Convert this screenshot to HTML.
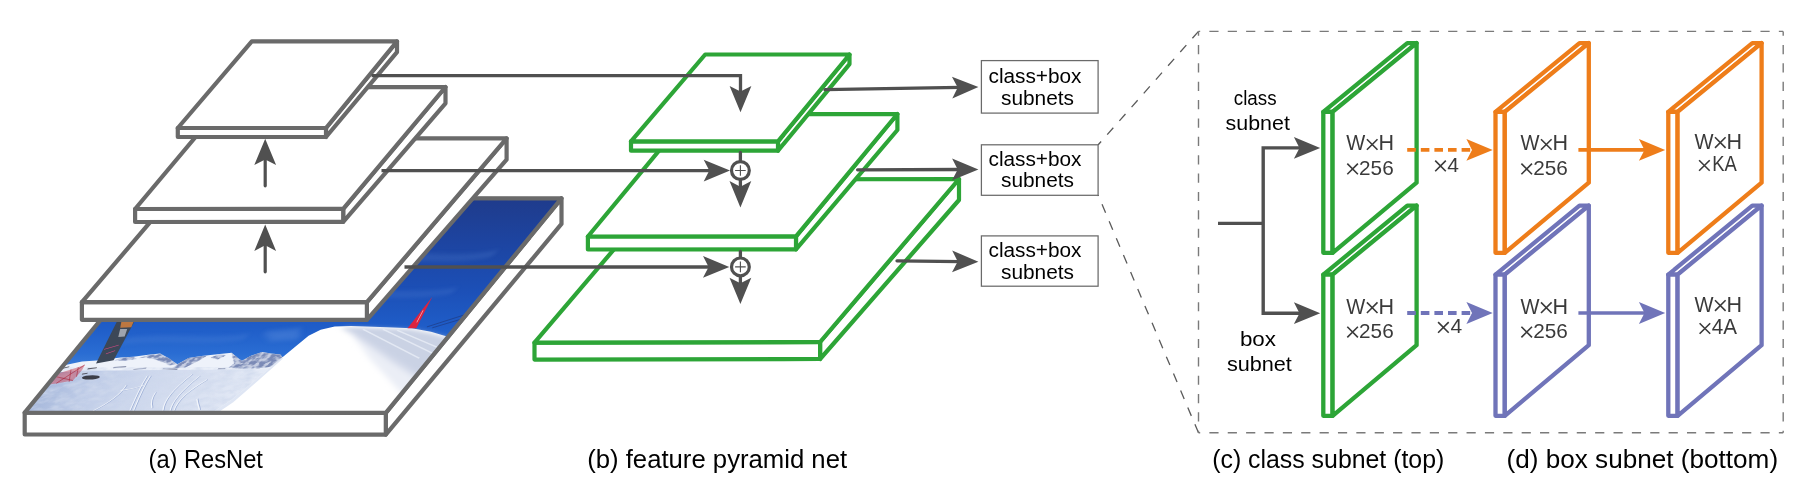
<!DOCTYPE html>
<html><head><meta charset="utf-8"><title>RetinaNet</title>
<style>
html,body{margin:0;padding:0;background:#fff;}
svg{display:block;-webkit-font-smoothing:antialiased;font-family:'Liberation Sans', sans-serif;}
</style></head><body>
<svg width="1818" height="490" viewBox="0 0 1818 490">
<rect width="1818" height="490" fill="#fff"/>
<g opacity="0.999">
<defs>
<linearGradient id="sky" x1="0" y1="0" x2="0" y2="1"><stop offset="0" stop-color="#1f3b8b"/><stop offset="0.2" stop-color="#1d44a0"/><stop offset="0.42" stop-color="#1c4fb6"/><stop offset="0.6" stop-color="#1f5dc8"/><stop offset="0.72" stop-color="#2a6dd3"/><stop offset="0.8" stop-color="#3f80da"/></linearGradient>
<linearGradient id="snow" gradientUnits="userSpaceOnUse" x1="0" y1="222" x2="205" y2="172"><stop offset="0" stop-color="#a4b6da"/><stop offset="0.25" stop-color="#c0cde8"/><stop offset="0.6" stop-color="#d3dcef"/><stop offset="1" stop-color="#e4eaf6"/></linearGradient>
<filter id="blur3" x="-10%" y="-50%" width="120%" height="200%"><feGaussianBlur stdDeviation="2.5"/></filter>
<filter id="blur2" x="-10%" y="-20%" width="120%" height="140%"><feGaussianBlur stdDeviation="2"/></filter>
<filter id="noise" filterUnits="userSpaceOnUse" x="-1" y="169" width="364" height="48"><feTurbulence type="fractalNoise" baseFrequency="0.09 0.2" numOctaves="3" seed="7" result="n"/><feColorMatrix in="n" type="matrix" values="0 0 0 0 0.62  0 0 0 0 0.69  0 0 0 0 0.84  2.2 0 0 0 -0.75"/></filter>
<filter id="rock" filterUnits="userSpaceOnUse" x="-1" y="140" width="240" height="40"><feTurbulence type="fractalNoise" baseFrequency="0.22 0.3" numOctaves="2" seed="3" result="n"/><feColorMatrix in="n" type="matrix" values="0 0 0 0 0.2  0 0 0 0 0.26  0 0 0 0 0.47  5 0 0 0 -1.9" result="c"/><feComposite in="c" in2="SourceAlpha" operator="in"/></filter>
<clipPath id="pc"><rect x="0" y="0" width="361.2" height="214.5"/></clipPath>
</defs>
<g stroke="#6a6a6a" stroke-width="4.2" stroke-linejoin="round" fill="#fff"><polygon points="385.8,412.8 561.5,198.3 561.5,223.9 385.8,434.6"/><polygon points="24.7,412.6 385.8,412.8 385.8,434.6 24.7,434.4"/><polygon points="24.7,412.6 385.8,412.8 561.5,198.3 200.4,198.1" fill="#fff" stroke="none"/><g transform="matrix(1,0,-0.8195,1,200.4,198.3)" stroke="none" clip-path="url(#pc)"><rect x="-1" y="-1" width="364" height="217" fill="url(#sky)"/><g filter="url(#blur3)" opacity="0.2"><path d="M240,60 C270,50 300,62 340,52 L340,58 C300,68 270,58 240,66 Z" fill="#6f9be0"/><path d="M200,95 C240,88 280,98 330,90 L330,95 C280,104 240,94 200,101 Z" fill="#6f9be0"/><path d="M40,140 C80,134 120,142 160,136 L160,141 C120,148 80,140 40,146 Z" fill="#6f9be0"/><polygon points="171.0,133.5 206.0,129.9 215.0,140.9 187.7,142.7" fill="#9cc0f0"/></g><polygon points="-7.5,171.2 -10.5,167.5 1.6,166.6 15.4,163.3 29.2,162.2 50.7,159.2 62.9,158.5 76.0,156.5 86.9,155.2 97.5,159.2 113.0,165.9 118.9,159.6 130.3,157.8 146.8,155.6 157.9,154.5 167.3,159.2 174.6,162.5 179.6,157.4 187.6,153.7 198.0,155.2 208.0,156.3 216.0,161.1 228.0,173.9 -5.2,173.9" fill="#eef2fa"/><g filter="url(#rock)"><polygon points="87.2,155.6 97.5,159.2 113.0,165.9 106.6,167.0 96.7,163.8 87.1,161.1 76.4,159.2 69.4,159.6 76.4,157.0" fill="#000"/><polygon points="113.3,166.2 119.1,159.8 130.4,158.0 135.5,157.4 131.9,162.0 127.6,165.7 123.2,169.3 110.8,169.9" fill="#000"/><polygon points="158.2,154.8 167.3,159.2 174.6,162.5 179.6,157.4 187.7,153.9 198.0,155.2 208.2,156.5 215.3,161.1 208.8,168.4 197.1,169.9 182.7,170.3 167.3,169.3 169.1,164.8 162.7,159.2" fill="#000"/><polygon points="51.0,159.6 63.1,158.7 68.4,160.7 58.6,162.2 47.4,162.0" fill="#000"/><polygon points="140.7,159.2 147.1,155.9 153.9,157.4 149.5,161.1" fill="#000"/></g><polygon points="87.2,155.6 97.5,159.2 113.0,165.9 106.6,167.0 96.7,163.8 87.1,161.1 76.4,159.2 69.4,159.6 76.4,157.0" fill="#7c8ab4" opacity="0.35"/><polygon points="113.3,166.2 119.1,159.8 130.4,158.0 135.5,157.4 131.9,162.0 127.6,165.7 123.2,169.3 110.8,169.9" fill="#7c8ab4" opacity="0.35"/><polygon points="158.2,154.8 167.3,159.2 174.6,162.5 179.6,157.4 187.7,153.9 198.0,155.2 208.2,156.5 215.3,161.1 208.8,168.4 197.1,169.9 182.7,170.3 167.3,169.3 169.1,164.8 162.7,159.2" fill="#7c8ab4" opacity="0.35"/><polygon points="51.0,159.6 63.1,158.7 68.4,160.7 58.6,162.2 47.4,162.0" fill="#7c8ab4" opacity="0.35"/><polygon points="140.7,159.2 147.1,155.9 153.9,157.4 149.5,161.1" fill="#7c8ab4" opacity="0.35"/><path d="M51.6,169.3 L63.7,168.4 M73.3,171.2 L85.1,169.9 M93.6,173.6 L100.7,173.2 M102.0,170.3 L117.2,171.0 M157.3,170.6 L164.4,170.3" stroke="#5a6488" stroke-width="1.2" fill="none" opacity="0.7"/><polygon points="-8.1,174.9 19.3,172.5 55.7,172.1 128.6,171.4 210.9,171.0 227.4,171.0 264.4,216.2 0.0,216.2" fill="url(#snow)"/><polygon points="-8.1,174.9 19.3,172.5 55.7,172.1 128.6,171.4 210.9,171.0 227.4,171.0 264.4,216.2 0.0,216.2" fill="#8ea2cf" filter="url(#noise)" opacity="0.75"/><g fill="none" stroke="#8fa3cf" stroke-width="1.1" opacity="0.7" transform="translate(0.9,0)"><path d="M103.5,212.5 C98.5,199.6 93.5,186.8 92.4,177.6"/><path d="M107.2,212.5 C101.8,199.6 96.8,186.8 95.5,177.6"/><path d="M136.6,212.5 C128.5,201.5 129.5,190.5 135.8,175.8"/><path d="M143.9,212.5 C137.9,203.3 138.4,192.3 144.7,177.6"/><path d="M123.3,209.7 Q114.7,201.5 114.2,194.1"/><path d="M172.5,211.6 Q165.1,205.1 160.8,200.6"/><path d="M147.6,212.5 C142.2,201.5 145.7,192.3 155.1,181.3"/><path d="M66.8,212.5 C75.5,205.1 80.8,196.0 78.8,186.8"/><path d="M77.8,192.3 Q89.1,190.5 97.1,186.8"/></g><g fill="none" stroke="#f4f7fc" stroke-width="1.0" opacity="0.95"><path d="M103.5,212.5 C98.5,199.6 93.5,186.8 92.4,177.6"/><path d="M107.2,212.5 C101.8,199.6 96.8,186.8 95.5,177.6"/><path d="M136.6,212.5 C128.5,201.5 129.5,190.5 135.8,175.8"/><path d="M143.9,212.5 C137.9,203.3 138.4,192.3 144.7,177.6"/><path d="M123.3,209.7 Q114.7,201.5 114.2,194.1"/><path d="M172.5,211.6 Q165.1,205.1 160.8,200.6"/><path d="M147.6,212.5 C142.2,201.5 145.7,192.3 155.1,181.3"/><path d="M66.8,212.5 C75.5,205.1 80.8,196.0 78.8,186.8"/><path d="M77.8,192.3 Q89.1,190.5 97.1,186.8"/></g><path d="M186,216 L196,202 L204,182 L212,160 L220.8,137.4 L228,131.5 L239.4,128.3 L255,127.6 L285,128.8 L318,130 L340,133.5 L363,139 L363,216 Z" fill="#ffffff"/><g filter="url(#blur2)"><path d="M246,128.5 L285,129.8 L318,131 L340,134.5 L364,140 L364,180 L330,166 L290,148 Z" fill="#b4bfd8" opacity="0.7"/><path d="M255,131 L363,176 L363,196 L300,160 Z" fill="#dde3f0" opacity="0.6"/></g><g stroke="#e9eef7" stroke-width="1.2" opacity="0.8"><path d="M270,131 L350,160"/><path d="M290,131 L362,156"/><path d="M305,132 L362,150"/></g><path d="M186,216 L196,202 L204,182 L212,160 L214,160 L207,183 L200,204 L192,216 Z" fill="#c9d5ec" opacity="0.6"/><polygon points="16.7,120.7 34.3,120.7 46.0,162.0 30.9,165.1" fill="#3c4757"/><polygon points="27.0,130.8 34.0,130.8 37.4,138.1 31.5,138.7" fill="#b8bcc4" opacity="0.8"/><polygon points="21.5,122.5 34.0,122.5 36.5,128.9 26.0,129.5" fill="#d4803c" opacity="0.85"/><path d="M27.4,151.0 L38.6,146.8 M33.0,155.6 L39.5,152.3" stroke="#c84a80" stroke-width="0.9" fill="none"/><polygon points="-2.9,176.7 10.9,171.2 20.9,166.6 22.4,171.7 21.8,182.2 7.8,185.3 -2.0,186.8" fill="#c8485c" opacity="0.5"/><path d="M7.5,185.0 L20.9,166.6 M-2.2,177.6 L21.8,182.2 M10.9,171.2 L19.1,183.5 M16.4,169.0 L22.4,178.5" stroke="#a82238" stroke-width="0.6" fill="none" opacity="0.8"/><ellipse cx="37.2" cy="179.1" rx="8.8" ry="2.2" fill="#25252c" opacity="0.85"/><path d="M1.6,169.9 L6.8,168.4 M27.0,170.6 L35.3,169.5 M25.7,175.8 L30.6,175.0" stroke="#30303a" stroke-width="1.1" fill="none" opacity="0.75"/><path d="M331.9,128.6 L362,115.5 M338,129.5 L362,120" stroke="#1f3270" stroke-width="0.45" fill="none"/><polygon points="312.6,98.6 322.4,130 313.6,130" fill="#dc2340"/><path d="M314.5,112 L318,124" stroke="#f2b0b8" stroke-width="0.8"/></g><polygon points="24.7,412.6 385.8,412.8 561.5,198.3 200.4,198.1" fill="none"/></g>
<g stroke="#6a6a6a" stroke-width="4.2" stroke-linejoin="round" fill="#fff"><polygon points="366.9,302.2 506.6,138.4 506.6,159.7 366.9,319.8"/><polygon points="81.9,302.2 366.9,302.2 366.9,319.8 81.9,319.8"/><polygon points="81.9,302.2 366.9,302.2 506.6,138.4 221.6,138.4" fill="#fff"/></g>
<g stroke="#6a6a6a" stroke-width="4.2" stroke-linejoin="round" fill="#fff"><polygon points="343.2,208.8 445.5,87.0 445.5,103.3 343.2,221.8"/><polygon points="135.1,209.0 343.2,208.8 343.2,221.8 135.1,222.0"/><polygon points="135.1,209.0 343.2,208.8 445.5,87.0 237.4,87.2" fill="#fff"/></g>
<g stroke="#6a6a6a" stroke-width="4.2" stroke-linejoin="round" fill="#fff"><polygon points="326.0,128.0 397.0,41.4 397.0,52.2 326.0,137.0"/><polygon points="177.8,128.0 326.0,128.0 326.0,137.0 177.8,137.0"/><polygon points="177.8,128.0 326.0,128.0 397.0,41.4 251.8,41.4" fill="#fff"/></g>
<polyline points="265.2,185.8 265.2,156.8" fill="none" stroke="#505050" stroke-width="3.2" stroke-linecap="round" stroke-linejoin="miter"/>
<polygon transform="translate(265.2,138.8) rotate(-90)" points="0,0 -26.3,-10.9 -20.700000000000003,0 -26.3,10.9" fill="#505050"/>
<polyline points="265.2,271.8 265.2,242.6" fill="none" stroke="#505050" stroke-width="3.2" stroke-linecap="round" stroke-linejoin="miter"/>
<polygon transform="translate(265.2,224.6) rotate(-90)" points="0,0 -26.3,-10.9 -20.700000000000003,0 -26.3,10.9" fill="#505050"/>
<g stroke="#2da537" stroke-width="4.2" stroke-linejoin="round" fill="#fff"><polygon points="820.1,342.0 959.0,179.0 959.0,200.0 820.1,359.0"/><polygon points="534.5,342.6 820.1,342.0 820.1,359.0 534.5,359.6"/><polygon points="534.5,342.6 820.1,342.0 959.0,179.0 673.4,179.6" fill="#fff"/></g>
<g stroke="#2da537" stroke-width="4.2" stroke-linejoin="round" fill="#fff"><polygon points="796.0,236.3 897.4,114.0 897.4,130.0 796.0,249.3"/><polygon points="587.9,236.5 796.0,236.3 796.0,249.3 587.9,249.5"/><polygon points="587.9,236.5 796.0,236.3 897.4,114.0 689.3,114.2" fill="#fff"/></g>
<g stroke="#2da537" stroke-width="4.2" stroke-linejoin="round" fill="#fff"><polygon points="778.0,141.3 849.5,54.5 849.5,64.1 778.0,150.7"/><polygon points="631.0,141.3 778.0,141.3 778.0,150.7 631.0,150.7"/><polygon points="631.0,141.3 778.0,141.3 849.5,54.5 705.2,54.5" fill="#fff"/></g>
<polyline points="371.6,75.6 740.5,75.6 740.5,95.0" fill="none" stroke="#505050" stroke-width="3.3" stroke-linecap="butt" stroke-linejoin="miter"/>
<polygon transform="translate(740.5,112.2) rotate(90)" points="0,0 -26.3,-10.9 -20.700000000000003,0 -26.3,10.9" fill="#505050"/>
<polyline points="381.5,170.6 712.0,170.6" fill="none" stroke="#505050" stroke-width="3.3" stroke-linecap="butt" stroke-linejoin="miter"/>
<polygon transform="translate(730.0,170.6) rotate(0)" points="0,0 -26.3,-10.9 -20.700000000000003,0 -26.3,10.9" fill="#505050"/>
<polyline points="404.5,267.0 712.0,267.0" fill="none" stroke="#505050" stroke-width="3.3" stroke-linecap="butt" stroke-linejoin="miter"/>
<polygon transform="translate(729.3,266.9) rotate(0)" points="0,0 -26.3,-10.9 -20.700000000000003,0 -26.3,10.9" fill="#505050"/>
<polyline points="740.4,152.5 740.4,161.5" fill="none" stroke="#505050" stroke-width="3.3" stroke-linecap="round" stroke-linejoin="miter"/>
<polyline points="740.4,179.5 740.4,189.4" fill="none" stroke="#505050" stroke-width="3.3" stroke-linecap="butt" stroke-linejoin="miter"/>
<circle cx="740.4" cy="170.5" r="8.9" fill="#fff" stroke="#505050" stroke-width="3.2"/>
<path d="M735.1,170.5H745.6999999999999M740.4,165.2V175.8" stroke="#505050" stroke-width="1.1" fill="none"/>
<polygon transform="translate(740.4,207.4) rotate(90)" points="0,0 -26.3,-10.9 -20.700000000000003,0 -26.3,10.9" fill="#505050"/>
<polyline points="740.4,251.5 740.4,257.9" fill="none" stroke="#505050" stroke-width="3.3" stroke-linecap="round" stroke-linejoin="miter"/>
<polyline points="740.4,275.9 740.4,286.0" fill="none" stroke="#505050" stroke-width="3.3" stroke-linecap="butt" stroke-linejoin="miter"/>
<circle cx="740.4" cy="266.9" r="8.9" fill="#fff" stroke="#505050" stroke-width="3.2"/>
<path d="M735.1,266.9H745.6999999999999M740.4,261.59999999999997V272.2" stroke="#505050" stroke-width="1.1" fill="none"/>
<polygon transform="translate(740.4,304.0) rotate(90)" points="0,0 -26.3,-10.9 -20.700000000000003,0 -26.3,10.9" fill="#505050"/>
<polyline points="825.0,89.6 960.0,87.4" fill="none" stroke="#505050" stroke-width="3.3" stroke-linecap="round" stroke-linejoin="miter"/>
<polygon transform="translate(978.4,87.1) rotate(-1)" points="0,0 -26.3,-10.9 -20.700000000000003,0 -26.3,10.9" fill="#505050"/>
<polyline points="857.6,169.8 960.0,169.5" fill="none" stroke="#505050" stroke-width="3.3" stroke-linecap="round" stroke-linejoin="miter"/>
<polygon transform="translate(978.4,169.4) rotate(0)" points="0,0 -26.3,-10.9 -20.700000000000003,0 -26.3,10.9" fill="#505050"/>
<polyline points="897.0,260.8 960.0,261.6" fill="none" stroke="#505050" stroke-width="3.3" stroke-linecap="round" stroke-linejoin="miter"/>
<polygon transform="translate(978.4,261.7) rotate(0.5)" points="0,0 -26.3,-10.9 -20.700000000000003,0 -26.3,10.9" fill="#505050"/>
<rect x="981.4" y="60.6" width="116.7" height="52.5" fill="#fff" stroke="#6a6a6a" stroke-width="1.25"/>
<text x="988.5" y="83.0" font-size="19.4" fill="#000" text-anchor="start" textLength="93.0" lengthAdjust="spacingAndGlyphs">class+box</text>
<text x="1001.0" y="104.6" font-size="19.4" fill="#000" text-anchor="start" textLength="73.0" lengthAdjust="spacingAndGlyphs">subnets</text>
<rect x="981.4" y="144.8" width="116.7" height="50.5" fill="#fff" stroke="#6a6a6a" stroke-width="1.25"/>
<text x="988.5" y="165.8" font-size="19.4" fill="#000" text-anchor="start" textLength="93.0" lengthAdjust="spacingAndGlyphs">class+box</text>
<text x="1001.0" y="187.3" font-size="19.4" fill="#000" text-anchor="start" textLength="73.0" lengthAdjust="spacingAndGlyphs">subnets</text>
<rect x="981.4" y="235.9" width="116.7" height="50.3" fill="#fff" stroke="#6a6a6a" stroke-width="1.25"/>
<text x="988.5" y="257.0" font-size="19.4" fill="#000" text-anchor="start" textLength="93.0" lengthAdjust="spacingAndGlyphs">class+box</text>
<text x="1001.0" y="278.5" font-size="19.4" fill="#000" text-anchor="start" textLength="73.0" lengthAdjust="spacingAndGlyphs">subnets</text>
<polyline points="1198.5,31.4 1098.2,144.8" fill="none" stroke="#5a5a5a" stroke-width="1.3" stroke-linecap="butt" stroke-linejoin="miter" stroke-dasharray="9.185 9.185"/>
<polyline points="1198.5,432.8 1098.2,195.3" fill="none" stroke="#5a5a5a" stroke-width="1.3" stroke-linecap="butt" stroke-linejoin="miter" stroke-dasharray="9.185 9.185"/>
<polyline points="1198.5,31.4 1783.2,31.4" fill="none" stroke="#7a7a7a" stroke-width="1.4" stroke-dasharray="9.185 9.185" stroke-dashoffset="7.5"/>
<polyline points="1198.5,432.8 1783.2,432.8" fill="none" stroke="#7a7a7a" stroke-width="1.4" stroke-dasharray="9.185 9.185" stroke-dashoffset="7.5"/>
<polyline points="1198.5,31.4 1198.5,432.8" fill="none" stroke="#7a7a7a" stroke-width="1.4" stroke-dasharray="9.185 9.185" stroke-dashoffset="4.8"/>
<polyline points="1783.2,31.4 1783.2,432.8" fill="none" stroke="#7a7a7a" stroke-width="1.4" stroke-dasharray="9.185 9.185" stroke-dashoffset="4.8"/>
<g stroke="#2da537" stroke-width="4.3" stroke-linejoin="round" fill="#fff"><polygon points="1332.6,111.8 1416.6,43.1 1407.3,43.1 1323.3,111.8"/><polygon points="1332.6,111.8 1332.6,252.8 1323.3,252.8 1323.3,111.8"/><polygon points="1332.6,111.8 1416.6,43.1 1416.6,182.7 1332.6,252.8"/></g>
<g stroke="#ee7d1a" stroke-width="4.3" stroke-linejoin="round" fill="#fff"><polygon points="1504.8,111.8 1588.8,43.1 1579.5,43.1 1495.5,111.8"/><polygon points="1504.8,111.8 1504.8,252.8 1495.5,252.8 1495.5,111.8"/><polygon points="1504.8,111.8 1588.8,43.1 1588.8,182.7 1504.8,252.8"/></g>
<g stroke="#ee7d1a" stroke-width="4.3" stroke-linejoin="round" fill="#fff"><polygon points="1677.6,111.8 1761.6,43.1 1752.3,43.1 1668.3,111.8"/><polygon points="1677.6,111.8 1677.6,252.8 1668.3,252.8 1668.3,111.8"/><polygon points="1677.6,111.8 1761.6,43.1 1761.6,182.7 1677.6,252.8"/></g>
<g stroke="#2da537" stroke-width="4.3" stroke-linejoin="round" fill="#fff"><polygon points="1332.6,274.6 1416.6,205.6 1407.3,205.6 1323.3,274.6"/><polygon points="1332.6,274.6 1332.6,415.8 1323.3,415.8 1323.3,274.6"/><polygon points="1332.6,274.6 1416.6,205.6 1416.6,345.2 1332.6,415.8"/></g>
<g stroke="#7074b9" stroke-width="4.3" stroke-linejoin="round" fill="#fff"><polygon points="1504.8,274.6 1588.8,205.6 1579.5,205.6 1495.5,274.6"/><polygon points="1504.8,274.6 1504.8,415.8 1495.5,415.8 1495.5,274.6"/><polygon points="1504.8,274.6 1588.8,205.6 1588.8,345.2 1504.8,415.8"/></g>
<g stroke="#7074b9" stroke-width="4.3" stroke-linejoin="round" fill="#fff"><polygon points="1677.6,274.6 1761.6,205.6 1752.3,205.6 1668.3,274.6"/><polygon points="1677.6,274.6 1677.6,415.8 1668.3,415.8 1668.3,274.6"/><polygon points="1677.6,274.6 1761.6,205.6 1761.6,345.2 1677.6,415.8"/></g>
<polyline points="1218.0,223.4 1263.2,223.4" fill="none" stroke="#505050" stroke-width="3.4" stroke-linecap="butt" stroke-linejoin="miter"/>
<polyline points="1300.0,147.9 1263.2,147.9 1263.2,313.2 1300.0,313.2" fill="none" stroke="#505050" stroke-width="3.4" stroke-linecap="butt" stroke-linejoin="miter"/>
<polygon transform="translate(1320.2,147.9) rotate(0)" points="0,0 -26.3,-10.9 -20.700000000000003,0 -26.3,10.9" fill="#505050"/>
<polygon transform="translate(1320.2,313.2) rotate(0)" points="0,0 -26.3,-10.9 -20.700000000000003,0 -26.3,10.9" fill="#505050"/>
<polyline points="1407.2,149.9 1473.0,149.9" fill="none" stroke="#ee7d1a" stroke-width="3.9" stroke-linecap="butt" stroke-linejoin="miter" stroke-dasharray="8.6 5"/>
<polygon transform="translate(1492.7,149.9) rotate(0)" points="0,0 -26.3,-10.9 -20.700000000000003,0 -26.3,10.9" fill="#ee7d1a"/>
<polyline points="1578.4,149.9 1645.0,149.9" fill="none" stroke="#ee7d1a" stroke-width="3.6" stroke-linecap="butt" stroke-linejoin="miter"/>
<polygon transform="translate(1665.2,149.9) rotate(0)" points="0,0 -26.3,-10.9 -20.700000000000003,0 -26.3,10.9" fill="#ee7d1a"/>
<polyline points="1407.2,313.0 1473.0,313.0" fill="none" stroke="#7074b9" stroke-width="3.9" stroke-linecap="butt" stroke-linejoin="miter" stroke-dasharray="8.6 5"/>
<polygon transform="translate(1492.7,313.0) rotate(0)" points="0,0 -26.3,-10.9 -20.700000000000003,0 -26.3,10.9" fill="#7074b9"/>
<polyline points="1578.4,313.0 1645.0,313.0" fill="none" stroke="#7074b9" stroke-width="3.6" stroke-linecap="butt" stroke-linejoin="miter"/>
<polygon transform="translate(1665.2,313.0) rotate(0)" points="0,0 -26.3,-10.9 -20.700000000000003,0 -26.3,10.9" fill="#7074b9"/>
<text x="1346.3" y="150.4" font-size="21.5" fill="#3a3a3a" text-anchor="start" textLength="19.0" lengthAdjust="spacingAndGlyphs">W</text>
<path d="M1366.90,139.20L1377.50,149.80M1366.90,149.80L1377.50,139.20" stroke="#3a3a3a" stroke-width="1.6" fill="none"/>
<text x="1386.2" y="150.4" font-size="21.5" fill="#3a3a3a" text-anchor="middle">H</text>
<path d="M1347.30,163.60L1357.90,174.20M1347.30,174.20L1357.90,163.60" stroke="#3a3a3a" stroke-width="1.6" fill="none"/>
<text x="1359.1" y="174.8" font-size="21.0" fill="#3a3a3a" text-anchor="start" textLength="34.6" lengthAdjust="spacingAndGlyphs">256</text>
<text x="1346.3" y="313.6" font-size="21.5" fill="#3a3a3a" text-anchor="start" textLength="19.0" lengthAdjust="spacingAndGlyphs">W</text>
<path d="M1366.90,302.40L1377.50,313.00M1366.90,313.00L1377.50,302.40" stroke="#3a3a3a" stroke-width="1.6" fill="none"/>
<text x="1386.2" y="313.6" font-size="21.5" fill="#3a3a3a" text-anchor="middle">H</text>
<path d="M1347.30,326.80L1357.90,337.40M1347.30,337.40L1357.90,326.80" stroke="#3a3a3a" stroke-width="1.6" fill="none"/>
<text x="1359.1" y="338.0" font-size="21.0" fill="#3a3a3a" text-anchor="start" textLength="34.6" lengthAdjust="spacingAndGlyphs">256</text>
<text x="1520.4" y="150.4" font-size="21.5" fill="#3a3a3a" text-anchor="start" textLength="19.0" lengthAdjust="spacingAndGlyphs">W</text>
<path d="M1541.00,139.20L1551.60,149.80M1541.00,149.80L1551.60,139.20" stroke="#3a3a3a" stroke-width="1.6" fill="none"/>
<text x="1560.3" y="150.4" font-size="21.5" fill="#3a3a3a" text-anchor="middle">H</text>
<path d="M1521.40,163.60L1532.00,174.20M1521.40,174.20L1532.00,163.60" stroke="#3a3a3a" stroke-width="1.6" fill="none"/>
<text x="1533.2" y="174.8" font-size="21.0" fill="#3a3a3a" text-anchor="start" textLength="34.6" lengthAdjust="spacingAndGlyphs">256</text>
<text x="1520.4" y="313.6" font-size="21.5" fill="#3a3a3a" text-anchor="start" textLength="19.0" lengthAdjust="spacingAndGlyphs">W</text>
<path d="M1541.00,302.40L1551.60,313.00M1541.00,313.00L1551.60,302.40" stroke="#3a3a3a" stroke-width="1.6" fill="none"/>
<text x="1560.3" y="313.6" font-size="21.5" fill="#3a3a3a" text-anchor="middle">H</text>
<path d="M1521.40,326.80L1532.00,337.40M1521.40,337.40L1532.00,326.80" stroke="#3a3a3a" stroke-width="1.6" fill="none"/>
<text x="1533.2" y="338.0" font-size="21.0" fill="#3a3a3a" text-anchor="start" textLength="34.6" lengthAdjust="spacingAndGlyphs">256</text>
<text x="1694.4" y="148.5" font-size="21.5" fill="#3a3a3a" text-anchor="start" textLength="19.0" lengthAdjust="spacingAndGlyphs">W</text>
<path d="M1715.00,137.30L1725.60,147.90M1715.00,147.90L1725.60,137.30" stroke="#3a3a3a" stroke-width="1.6" fill="none"/>
<text x="1734.3" y="148.5" font-size="21.5" fill="#3a3a3a" text-anchor="middle">H</text>
<path d="M1699.10,160.20L1709.70,170.80M1699.10,170.80L1709.70,160.20" stroke="#3a3a3a" stroke-width="1.6" fill="none"/>
<text x="1712.3" y="171.4" font-size="21.5" fill="#3a3a3a" text-anchor="start" textLength="24.6" lengthAdjust="spacingAndGlyphs">KA</text>
<text x="1694.4" y="311.5" font-size="21.5" fill="#3a3a3a" text-anchor="start" textLength="19.0" lengthAdjust="spacingAndGlyphs">W</text>
<path d="M1715.00,300.30L1725.60,310.90M1715.00,310.90L1725.60,300.30" stroke="#3a3a3a" stroke-width="1.6" fill="none"/>
<text x="1734.3" y="311.5" font-size="21.5" fill="#3a3a3a" text-anchor="middle">H</text>
<path d="M1699.60,323.20L1710.20,333.80M1699.60,333.80L1710.20,323.20" stroke="#3a3a3a" stroke-width="1.6" fill="none"/>
<text x="1711.7" y="334.4" font-size="21.5" fill="#3a3a3a" text-anchor="start" textLength="25.2" lengthAdjust="spacingAndGlyphs">4A</text>
<path d="M1435.20,160.60L1445.80,171.20M1435.20,171.20L1445.80,160.60" stroke="#3a3a3a" stroke-width="1.6" fill="none"/>
<text x="1453.2" y="171.8" font-size="21.0" fill="#3a3a3a" text-anchor="middle">4</text>
<path d="M1438.10,322.10L1448.70,332.70M1438.10,332.70L1448.70,322.10" stroke="#3a3a3a" stroke-width="1.6" fill="none"/>
<text x="1456.3" y="333.3" font-size="21.0" fill="#3a3a3a" text-anchor="middle">4</text>
<text x="1233.8" y="105.2" font-size="20" fill="#000" text-anchor="start" textLength="42.8" lengthAdjust="spacingAndGlyphs">class</text>
<text x="1225.6" y="129.7" font-size="20" fill="#000" text-anchor="start" textLength="64.3" lengthAdjust="spacingAndGlyphs">subnet</text>
<text x="1239.9" y="346.4" font-size="20" fill="#000" text-anchor="start" textLength="36.1" lengthAdjust="spacingAndGlyphs">box</text>
<text x="1226.9" y="370.6" font-size="20" fill="#000" text-anchor="start" textLength="65.0" lengthAdjust="spacingAndGlyphs">subnet</text>
<text x="148.5" y="467.8" font-size="25.2" fill="#000" text-anchor="start" textLength="114.4" lengthAdjust="spacingAndGlyphs">(a) ResNet</text>
<text x="587.2" y="467.6" font-size="25.2" fill="#000" text-anchor="start" textLength="259.9" lengthAdjust="spacingAndGlyphs">(b) feature pyramid net</text>
<text x="1212.2" y="467.8" font-size="25.2" fill="#000" text-anchor="start" textLength="232.1" lengthAdjust="spacingAndGlyphs">(c) class subnet (top)</text>
<text x="1506.5" y="467.8" font-size="25.2" fill="#000" text-anchor="start" textLength="271.6" lengthAdjust="spacingAndGlyphs">(d) box subnet (bottom)</text>
</g>
</svg>
</body></html>
